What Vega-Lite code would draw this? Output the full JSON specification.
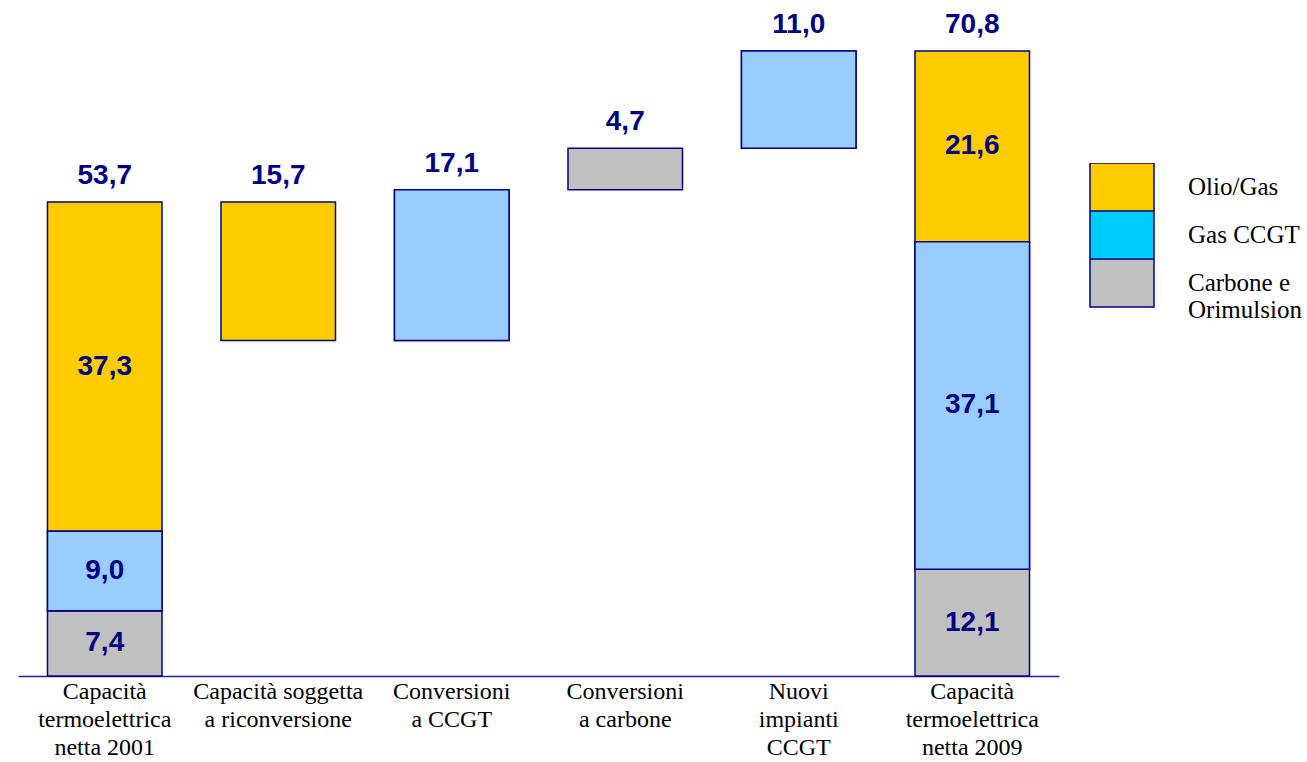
{
  "$schema": "https://vega.github.io/schema/vega-lite/v6.json",
  "width": 1041,
  "height": 662,
  "autosize": "none",
  "padding": {"left": 18, "top": 14, "right": 248, "bottom": 86},
  "background": "white",
  "config": {
    "view": {"stroke": null},
    "locale": {"number": {"decimal": ",", "thousands": ".", "grouping": [3], "currency": ["€", ""]}}
  },
  "data": {
    "values": [
      {"cat": "Capacità termoelettrica netta 2001", "type": "Carbone e Orimulsion", "start": 0, "end": 7.4, "value": 7.4, "kind": "stack"},
      {"cat": "Capacità termoelettrica netta 2001", "type": "Gas CCGT", "start": 7.4, "end": 16.4, "value": 9.0, "kind": "stack"},
      {"cat": "Capacità termoelettrica netta 2001", "type": "Olio/Gas", "start": 16.4, "end": 53.7, "value": 37.3, "kind": "stack"},
      {"cat": "Capacità soggetta a riconversione", "type": "Olio/Gas", "start": 38.0, "end": 53.7, "value": 15.7, "kind": "step"},
      {"cat": "Conversioni a CCGT", "type": "Gas CCGT", "start": 38.0, "end": 55.1, "value": 17.1, "kind": "step"},
      {"cat": "Conversioni a carbone", "type": "Carbone e Orimulsion", "start": 55.1, "end": 59.8, "value": 4.7, "kind": "step"},
      {"cat": "Nuovi impianti CCGT", "type": "Gas CCGT", "start": 59.8, "end": 70.8, "value": 11.0, "kind": "step"},
      {"cat": "Capacità termoelettrica netta 2009", "type": "Carbone e Orimulsion", "start": 0, "end": 12.1, "value": 12.1, "kind": "stack"},
      {"cat": "Capacità termoelettrica netta 2009", "type": "Gas CCGT", "start": 12.1, "end": 49.2, "value": 37.1, "kind": "stack"},
      {"cat": "Capacità termoelettrica netta 2009", "type": "Olio/Gas", "start": 49.2, "end": 70.8, "value": 21.6, "kind": "stack"}
    ]
  },
  "encoding": {
    "x": {
      "field": "cat",
      "type": "nominal",
      "sort": null,
      "scale": {"paddingInner": 0.34, "paddingOuter": 0.17},
      "axis": {
        "title": null,
        "labelAngle": 0,
        "ticks": false,
        "domainColor": "#1f1fa8",
        "domainWidth": 1.5,
        "labelFont": "Liberation Serif",
        "labelFontSize": 24,
        "labelColor": "black",
        "labelLineHeight": 28,
        "labelPadding": 3,
        "labelLimit": 300,
        "labelExpr": "{'Capacità termoelettrica netta 2001': ['Capacità', 'termoelettrica', 'netta 2001'], 'Capacità soggetta a riconversione': ['Capacità soggetta', 'a riconversione'], 'Conversioni a CCGT': ['Conversioni', 'a CCGT'], 'Conversioni a carbone': ['Conversioni', 'a carbone'], 'Nuovi impianti CCGT': ['Nuovi', 'impianti', 'CCGT'], 'Capacità termoelettrica netta 2009': ['Capacità', 'termoelettrica', 'netta 2009']}[datum.label]"
      }
    },
    "y": {"field": "start", "type": "quantitative", "scale": {"domain": [0, 75], "nice": false, "zero": true}, "axis": null}
  },
  "layer": [
    {
      "mark": {"type": "bar", "stroke": "#000080", "strokeWidth": 1.5},
      "encoding": {
        "y2": {"field": "end"},
        "fill": {
          "field": "type",
          "type": "nominal",
          "scale": {"domain": ["Olio/Gas", "Gas CCGT", "Carbone e Orimulsion"], "range": ["#FFCC00", "#00CCFF", "#C0C0C0"]},
          "legend": {
            "title": null,
            "orient": "none",
            "legendX": 1071,
            "legendY": 149,
            "padding": 0,
            "rowPadding": 0,
            "clipHeight": 48,
            "symbolType": "M-1,-0.75H1V0.75H-1Z",
            "symbolSize": 4096,
            "symbolStrokeColor": "#000080",
            "symbolStrokeWidth": 1.5,
            "symbolOpacity": 1,
            "labelOffset": 33,
            "labelFont": "Liberation Serif",
            "labelFontSize": 25,
            "labelColor": "black",
            "labelLimit": 300,
            "labelExpr": "datum.label == 'Carbone e Orimulsion' ? ['Carbone e', 'Orimulsion'] : datum.label"
          }
        }
      }
    },
    {
      "transform": [{"filter": "datum.type == 'Gas CCGT'"}],
      "mark": {"type": "bar", "stroke": "#000080", "strokeWidth": 1.5, "fill": "#99CCFF"},
      "encoding": {
        "y2": {"field": "end"}
      }
    },
    {
      "transform": [
        {"filter": "datum.kind == 'stack'"},
        {"calculate": "(datum.start + datum.end) / 2", "as": "mid"}
      ],
      "mark": {"type": "text", "font": "Liberation Sans", "fontWeight": "bold", "fontSize": 28, "color": "#000080", "baseline": "middle"},
      "encoding": {
        "y": {"field": "mid", "type": "quantitative"},
        "text": {"field": "value", "type": "quantitative", "format": ".1f"}
      }
    },
    {
      "transform": [
        {"aggregate": [{"op": "max", "field": "end", "as": "top"}, {"op": "sum", "field": "value", "as": "total"}], "groupby": ["cat"]}
      ],
      "mark": {"type": "text", "font": "Liberation Sans", "fontWeight": "bold", "fontSize": 28, "color": "#000080", "baseline": "alphabetic", "dy": -18},
      "encoding": {
        "y": {"field": "top", "type": "quantitative"},
        "text": {"field": "total", "type": "quantitative", "format": ".1f"}
      }
    }
  ]
}
